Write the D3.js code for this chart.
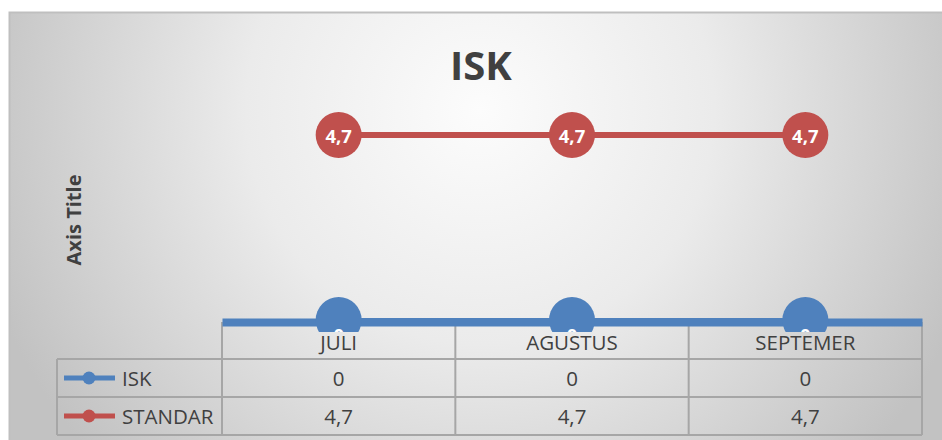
<!DOCTYPE html>
<html>
<head>
<meta charset="utf-8">
<script src="https://cdn.jsdelivr.net/npm/d3@7"></script>
<style>
  body { margin: 0; background: #fff; }
  svg { display: block; }
</style>
</head>
<body>
<div id="chart"></div>
<script>
const categories = ["JULI", "AGUSTUS", "SEPTEMER"];
const iskValues = [0, 0, 0];
const standarValues = [4.7, 4.7, 4.7];
const seriesNames = ["ISK", "STANDAR"];
const seriesColors = ["#4f81bd", "#c0504d"];

const width = 942;
const height = 440;
const plot = { left: 222, right: 922, top: 123, bottom: 322 };

const fmt = (v) => String(v).replace(".", ",");

const svg = d3
  .select("#chart")
  .append("svg")
  .attr("width", width)
  .attr("height", height);

const defs = svg.append("defs");
const grad = defs
  .append("radialGradient")
  .attr("id", "bg")
  .attr("gradientUnits", "userSpaceOnUse")
  .attr("cx", 480)
  .attr("cy", 110)
  .attr("r", 520);
grad.append("stop").attr("offset", "0%").attr("stop-color", "#fcfcfc");
grad.append("stop").attr("offset", "45%").attr("stop-color", "#ebebeb");
grad.append("stop").attr("offset", "100%").attr("stop-color", "#c2c2c2");

defs
  .append("clipPath")
  .attr("id", "plotClip")
  .append("rect")
  .attr("x", 0)
  .attr("y", 0)
  .attr("width", width)
  .attr("height", 332);

// chart area
svg
  .append("rect")
  .attr("x", 9.5)
  .attr("y", 12.5)
  .attr("width", 960)
  .attr("height", 460)
  .attr("fill", "url(#bg)")
  .attr("stroke", "#bfbfbf")
  .attr("stroke-width", 2);

const x = d3
  .scaleBand()
  .domain(categories)
  .range([plot.left, plot.right]);

const y = d3.scaleLinear().domain([0, 5]).range([plot.bottom, plot.top]);

// title
svg
  .append("text")
  .attr("x", 481)
  .attr("y", 80)
  .attr("text-anchor", "middle")
  .style("font-family", "'Open Sans', sans-serif")
  .style("font-weight", "bold")
  .style("font-size", "40px")
  .style("fill", "#404040")
  .text("ISK");

// axis title
svg
  .append("text")
  .attr("transform", "translate(81,220) rotate(-90)")
  .attr("text-anchor", "middle")
  .style("font-family", "'Open Sans', sans-serif")
  .style("font-weight", "bold")
  .style("font-size", "20px")
  .style("fill", "#404040")
  .text("Axis Title");

// data table grid
const grid = svg.append("g").attr("stroke", "#a6a6a6").attr("stroke-width", 2);
const tableLeft = 57;
const rowLines = [359, 397, 435];
rowLines.forEach((ry) => {
  grid.append("line").attr("x1", tableLeft).attr("x2", plot.right).attr("y1", ry).attr("y2", ry);
});
categories.forEach((c) => {
  grid.append("line").attr("x1", x(c)).attr("x2", x(c)).attr("y1", 322).attr("y2", 435);
});
grid.append("line").attr("x1", plot.right).attr("x2", plot.right).attr("y1", 322).attr("y2", 435);
grid.append("line").attr("x1", tableLeft).attr("x2", tableLeft).attr("y1", 359).attr("y2", 435);

const cellText = (sel) =>
  sel
    .attr("text-anchor", "middle")
    .attr("dominant-baseline", "central")
    .style("font-family", "'Open Sans', sans-serif")
    .style("font-size", "20.5px")
    .style("fill", "#404040");

// category labels
svg
  .append("g")
  .selectAll("text")
  .data(categories)
  .join("text")
  .call(cellText)
  .attr("x", (d) => x(d) + x.bandwidth() / 2)
  .attr("y", 342)
  .text((d) => d);

// table rows
const rows = [iskValues, standarValues];
const rowY = [378, 416];
rows.forEach((vals, i) => {
  const g = svg.append("g");
  g.selectAll("text")
    .data(vals)
    .join("text")
    .call(cellText)
    .attr("x", (d, j) => x(categories[j]) + x.bandwidth() / 2)
    .attr("y", rowY[i])
    .text((d) => fmt(d));
  g.append("line")
    .attr("x1", 64)
    .attr("x2", 115)
    .attr("y1", rowY[i])
    .attr("y2", rowY[i])
    .attr("stroke", seriesColors[i])
    .attr("stroke-width", 5);
  g.append("circle")
    .attr("cx", 89)
    .attr("cy", rowY[i])
    .attr("r", 6.5)
    .attr("fill", seriesColors[i]);
  g.append("text")
    .attr("x", 122)
    .attr("y", rowY[i])
    .attr("dominant-baseline", "central")
    .style("font-family", "'Open Sans', sans-serif")
    .style("font-size", "20.5px")
    .style("fill", "#404040")
    .text(seriesNames[i]);
});

// horizontal axis line (blue)
const axis = svg
  .append("g")
  .attr("transform", `translate(0,${plot.bottom})`)
  .call(d3.axisBottom(x).tickSize(0).tickFormat(""));
axis.select(".domain").attr("stroke", seriesColors[0]).attr("stroke-width", 8);

// series
const line = d3
  .line()
  .x((d, i) => x(categories[i]) + x.bandwidth() / 2)
  .y((d) => y(d));

const plotG = svg.append("g").attr("clip-path", "url(#plotClip)");

rows.forEach((vals, i) => {
  plotG
    .append("path")
    .datum(vals)
    .attr("d", line)
    .attr("fill", "none")
    .attr("stroke", seriesColors[i])
    .attr("stroke-width", i === 0 ? 8 : 6);

  plotG
    .selectAll(".m" + i)
    .data(vals)
    .join("circle")
    .attr("class", "m" + i)
    .attr("cx", (d, j) => x(categories[j]) + x.bandwidth() / 2)
    .attr("cy", (d) => y(d) - (i === 0 ? 2 : 0))
    .attr("r", 23)
    .attr("fill", seriesColors[i]);

  plotG
    .selectAll(".l" + i)
    .data(vals)
    .join("text")
    .attr("class", "l" + i)
    .attr("x", (d, j) => x(categories[j]) + x.bandwidth() / 2)
    .attr("y", (d) => y(d) + (i === 0 ? 12 : 1))
    .attr("text-anchor", "middle")
    .attr("dominant-baseline", "central")
    .style("font-family", "'Open Sans', sans-serif")
    .style("font-weight", "bold")
    .style("font-size", "18.5px")
    .style("fill", "#ffffff")
    .text((d) => fmt(d));
});
</script>
</body>
</html>
